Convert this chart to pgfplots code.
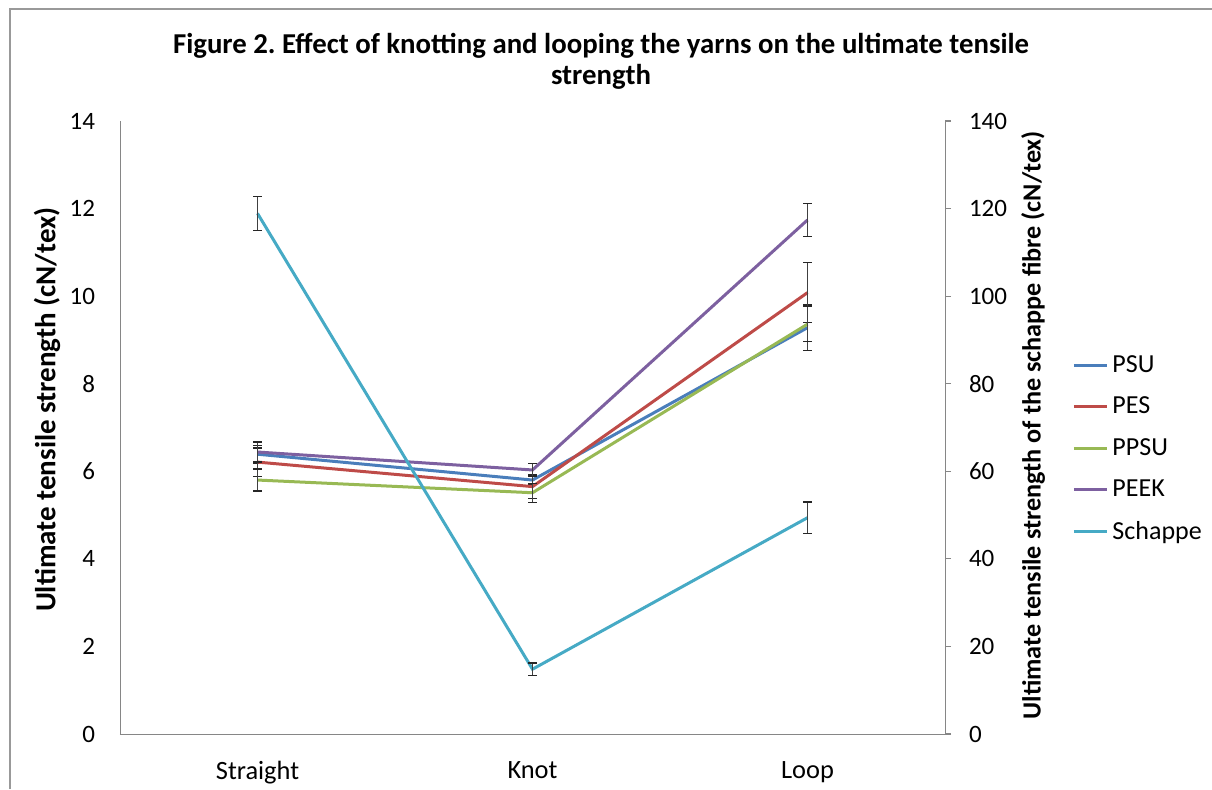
\documentclass[border=0pt]{standalone}
\usepackage{fontspec}
\setmainfont{Carlito}
\usepackage{pgfplots}
\usepackage{pgfplotstable}
\pgfplotsset{compat=1.18}
\definecolor{cPSU}{HTML}{4A7EBB}
\definecolor{cPES}{HTML}{BE4B48}
\definecolor{cPPSU}{HTML}{98B954}
\definecolor{cPEEK}{HTML}{7D60A0}
\definecolor{cSCH}{HTML}{46AAC5}
\definecolor{axgray}{HTML}{868686}
\pgfplotstableread{
x  PSU  ePSU  PES   ePES  PPSU  ePPSU PEEK  ePEEK
0  6.39 0.20  6.21  0.32  5.80  0.25  6.44  0.23
1  5.80 0.10  5.65  0.28  5.51  0.22  6.03  0.14
2  9.28 0.52  10.08 0.68  9.36  0.40  11.74 0.37
}\leftdata
\pgfplotstableread{
x  SCH   eSCH
0  118.9 3.9
1  14.8  1.4
2  49.4  3.6
}\rightdata
\pgfplotsset{
  common/.style={
    at={(60pt,27.5pt)}, anchor=south west,
    scale only axis, width=412.5pt, height=306.5pt,
    xmin=-0.5, xmax=2.5,
    tick align=outside, major tick length=3pt,
    axis line style={axgray, -},
    ticklabel style={font=\fontsize{12.5}{14}\selectfont},
    /pgf/number format/assume math mode=true,
    clip=false,
  },
  ebar/.style={
    error bars/.cd, y dir=both, y explicit,
    error bar style={black!75, line width=0.6pt},
    error mark options={rotate=90, black!85, mark size=2.2pt, line width=0.6pt},
  },
}
\begin{document}
\frenchspacing
\begin{tikzpicture}
\useasboundingbox (0pt,0pt) rectangle (606pt,394.5pt);
\draw[black!40, line width=0.8pt] (5pt,0pt) -- (5pt,390pt) -- (606pt,390pt);
\node[font=\bfseries\fontsize{14.4}{15.5}\selectfont, align=center] at (300.5pt,364pt) {Figure 2. Effect of knotting and looping the yarns on the ultimate tensile\\strength};
\begin{axis}[common,
  ymin=0, ymax=14, ytick={0,2,...,14},
  xtick={0,1,2}, xticklabels={Straight,Knot,Loop},
  x tick style={draw=none},
  y tick style={draw=none},
  xticklabel style={yshift=-7pt, font=\fontsize{13.2}{15}\selectfont},
  yticklabel style={xshift=-6pt},
  axis y line*=left, axis x line*=bottom,
  ylabel={Ultimate tensile strength (cN/tex)},
  ylabel style={at={(axis description cs:-0.0885,0.529)}, anchor=center, font=\bfseries\fontsize{14.5}{16}\selectfont},
]
\addplot[cPSU, line width=1.5pt, ebar] table[x=x, y=PSU, y error=ePSU] {\leftdata};
\addplot[cPES, line width=1.5pt, ebar] table[x=x, y=PES, y error=ePES] {\leftdata};
\addplot[cPPSU, line width=1.5pt, ebar] table[x=x, y=PPSU, y error=ePPSU] {\leftdata};
\addplot[cPEEK, line width=1.5pt, ebar] table[x=x, y=PEEK, y error=ePEEK] {\leftdata};
\end{axis}
\begin{axis}[common,
  ymin=0, ymax=140, ytick={0,20,...,140},
  y tick style={axgray, line width=0.6pt},
  yticklabel style={xshift=5.5pt},
  axis y line*=right, axis x line=none,
  ylabel={Ultimate tensile strength of the schappe fibre (cN/tex)},
  ylabel style={at={(axis description cs:1.1067,0.504)}, anchor=center, rotate=0, font=\bfseries\fontsize{13.1}{15}\selectfont},
  legend style={at={(axis description cs:1.154,0.625)}, anchor=north west, draw=none, fill=none,
    inner xsep=0pt, inner ysep=0pt,
    font=\fontsize{13}{15}\selectfont, row sep=6.8pt},
  legend cell align=left,
  legend image code/.code={\draw[#1, line width=1.5pt] (0pt,0pt) -- (16.5pt,0pt);},
]
\addlegendimage{cPSU}
\addlegendentry{PSU}
\addlegendimage{cPES}
\addlegendentry{PES}
\addlegendimage{cPPSU}
\addlegendentry{PPSU}
\addlegendimage{cPEEK}
\addlegendentry{PEEK}
\addplot[cSCH, line width=1.5pt, ebar] table[x=x, y=SCH, y error=eSCH] {\rightdata};
\addlegendentry{Schappe}
\end{axis}
\end{tikzpicture}
\end{document}
